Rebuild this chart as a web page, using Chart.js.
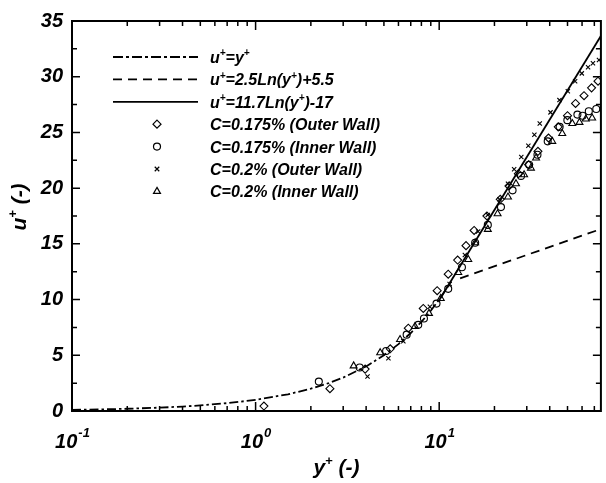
<!DOCTYPE html>
<html><head><meta charset="utf-8">
<script src="https://cdn.jsdelivr.net/npm/chart.js@4.4.1/dist/chart.umd.min.js"></script>
<style>html,body{margin:0;padding:0;background:#fff}#wrap{width:606px;height:483px;position:relative}</style>
</head><body><div id="wrap"><canvas id="c"></canvas></div>
<script>
const FONT = "'Liberation Sans', Arial, Helvetica, sans-serif";

// ---- data ----
const seriesLabels = ["u⁺=y⁺", "u⁺=2.5Ln(y⁺)+5.5", "u⁺=11.7Ln(y⁺)-17",
  "C=0.175% (Outer Wall)", "C=0.175% (Inner Wall)", "C=0.2% (Outer Wall)", "C=0.2% (Inner Wall)"];
const xTickValues = [0.1, 1, 10];
const xTickExponents = ["-1", "0", "1"];
const xTitle = "y⁺ (-)";
const yTitle = "u⁺ (-)";

const viscousY = [0.1, 0.15, 0.2, 0.3, 0.4, 0.5, 0.7, 1, 1.5, 2, 2.5, 3, 4, 5, 6, 7, 8, 9, 10, 11.6];
const viscousU = [0.1, 0.15, 0.2, 0.3, 0.4, 0.5, 0.7, 1, 1.5, 2, 2.5, 3, 4, 5, 6, 7, 8, 9, 10, 11.6];
const logLawY = [13, 76];
const logLawU = [11.91, 16.33];
const fitY = [10, 78];
const fitU = [9.94, 33.97];

const outer175Y = [1.11, 2.54, 3.95, 5.41, 6.79, 8.19, 9.75, 11.2, 12.6, 14.0, 15.5, 18.2, 21.5, 24.0, 27.0, 30.7, 34.5, 39.4, 44.5, 50.0, 55.3, 61.5, 67.6, 73.3];
const outer175U = [0.44, 2.0, 3.76, 5.58, 7.43, 9.2, 10.8, 12.28, 13.55, 14.84, 16.2, 17.5, 19.0, 20.2, 21.3, 22.1, 23.3, 24.5, 25.5, 26.5, 27.6, 28.3, 29.0, 29.6];
const inner175Y = [2.21, 3.69, 5.14, 6.65, 7.69, 8.26, 9.67, 11.2, 13.3, 15.7, 18.4, 21.7, 25.1, 27.9, 30.9, 34.3, 39.0, 45.3, 49.9, 56.6, 60.4, 65.3, 71.7];
const inner175U = [2.64, 3.9, 5.38, 6.85, 7.73, 8.3, 9.64, 10.96, 12.9, 15.1, 16.7, 18.3, 19.8, 21.1, 22.1, 23.0, 24.2, 25.5, 26.1, 26.6, 26.5, 26.9, 27.1];
const outer2Y = [4.07, 5.29, 6.38, 8.9, 11.4, 13.8, 16.3, 18.4, 21.3, 23.7, 25.6, 28.0, 30.6, 33.0, 35.3, 40.4, 45.2, 50.2, 55.0, 59.8, 64.7, 68.8, 74.2];
const outer2U = [3.09, 4.73, 6.26, 9.35, 11.4, 14.0, 16.1, 17.6, 19.0, 20.4, 21.7, 22.8, 23.8, 24.8, 25.8, 26.8, 27.9, 28.7, 29.6, 30.3, 30.85, 31.2, 31.5];
const inner2Y = [3.42, 4.77, 6.12, 7.38, 8.8, 10.2, 12.7, 14.4, 15.7, 18.4, 20.8, 23.7, 26.2, 29.0, 31.6, 33.7, 41.3, 46.8, 53.1, 58.1, 62.9, 68.1];
const inner2U = [4.05, 5.23, 6.41, 7.58, 8.76, 10.1, 12.43, 13.6, 15.1, 16.3, 17.7, 19.2, 20.4, 21.2, 21.8, 22.7, 24.2, 24.9, 25.8, 25.9, 26.2, 26.3];

const pts = (xs, ys) => xs.map((x, i) => ({x: x, y: ys[i]}));

function lineDs(label, xs, ys, dash) {
  return {label, data: pts(xs, ys), showLine: true, borderColor: '#000', borderWidth: 1.8,
    borderDash: dash, pointRadius: 0, pointHoverRadius: 0, fill: false, tension: 0};
}
function markDs(label, xs, ys, style, r) {
  return {label, data: pts(xs, ys), showLine: false, pointStyle: style, pointRadius: r,
    pointHoverRadius: r, pointBorderWidth: 1.1, borderColor: '#000', backgroundColor: 'rgba(0,0,0,0)'};
}

const datasets = [
  lineDs(seriesLabels[0], viscousY, viscousU, [9, 3, 2.5, 3]),
  lineDs(seriesLabels[1], logLawY, logLawU, [9, 6]),
  lineDs(seriesLabels[2], fitY, fitU, []),
  markDs(seriesLabels[3], outer175Y, outer175U, 'rectRot', 4),
  markDs(seriesLabels[4], inner175Y, inner175U, 'circle', 3.5),
  markDs(seriesLabels[5], outer2Y, outer2U, 'crossRot', 3),
  markDs(seriesLabels[6], inner2Y, inner2U, 'triangle', 4),
];

function font(size) { return 'italic bold ' + size + 'px ' + FONT; }

// rich text: '⁺' drawn as a raised small '+'
function richSegments(text) {
  const segs = [];
  for (const ch of text) {
    const sup = ch === '⁺';
    const c = sup ? '+' : ch;
    if (segs.length && segs[segs.length - 1].sup === sup) segs[segs.length - 1].t += c;
    else segs.push({t: c, sup});
  }
  return segs;
}
function drawRich(ctx, text, x, y, size, align) {
  const segs = richSegments(text);
  const supSize = Math.round(size * 0.62);
  let w = 0;
  segs.forEach(s => { ctx.font = font(s.sup ? supSize : size); s.w = ctx.measureText(s.t).width; w += s.w; });
  let cx = align === 'center' ? x - w / 2 : x;
  ctx.textBaseline = 'alphabetic';
  ctx.textAlign = 'left';
  segs.forEach(s => {
    ctx.font = font(s.sup ? supSize : size);
    ctx.fillText(s.t, cx, s.sup ? y - size * 0.42 : y);
    cx += s.w;
  });
}

function drawMarker(ctx, style, x, y, r) {
  ctx.beginPath();
  if (style === 'rectRot') {
    ctx.moveTo(x, y - r); ctx.lineTo(x + r, y); ctx.lineTo(x, y + r); ctx.lineTo(x - r, y); ctx.closePath();
  } else if (style === 'circle') {
    ctx.arc(x, y, r, 0, Math.PI * 2);
  } else if (style === 'crossRot') {
    const d = r * 0.75;
    ctx.moveTo(x - d, y - d); ctx.lineTo(x + d, y + d); ctx.moveTo(x + d, y - d); ctx.lineTo(x - d, y + d);
  } else if (style === 'triangle') {
    const h = r * 1.5, w = r * Math.sqrt(3) * 0.5 * 1.0;
    ctx.moveTo(x, y - r); ctx.lineTo(x + r * 0.866, y + r * 0.5); ctx.lineTo(x - r * 0.866, y + r * 0.5); ctx.closePath();
  }
  ctx.stroke();
}

const framePlugin = {
  id: 'frame',
  afterDraw(chart) {
    const ctx = chart.ctx, a = chart.chartArea, xs = chart.scales.x, ys = chart.scales.y;
    ctx.save();
    ctx.strokeStyle = '#000'; ctx.fillStyle = '#000';
    // frame
    ctx.lineWidth = 2;
    ctx.setLineDash([]);
    ctx.strokeRect(a.left, a.top, a.right - a.left, a.bottom - a.top);
    // y ticks (inward, left and right)
    ctx.lineWidth = 1.5;
    for (let v = ys.min; v <= ys.max + 1e-9; v += 2.5) {
      const p = ys.getPixelForValue(v);
      const len = (Math.abs(v / 5 - Math.round(v / 5)) < 1e-6) ? 8 : 5;
      ctx.beginPath();
      ctx.moveTo(a.left, p); ctx.lineTo(a.left + len, p);
      ctx.moveTo(a.right, p); ctx.lineTo(a.right - len, p);
      ctx.stroke();
    }
    // x ticks (log, inward, bottom and top)
    for (let d = -1; d <= 2; d++) {
      for (let m = 1; m <= 9; m++) {
        const v = m * Math.pow(10, d);
        if (v < xs.min * 0.999 || v > xs.max * 1.001) continue;
        const p = xs.getPixelForValue(v);
        const len = m === 1 ? 9 : 5;
        ctx.beginPath();
        ctx.moveTo(p, a.bottom); ctx.lineTo(p, a.bottom - len);
        ctx.moveTo(p, a.top); ctx.lineTo(p, a.top + len);
        ctx.stroke();
      }
    }
    // x tick labels 10^n
    xTickValues.forEach((v, i) => {
      const p = xs.getPixelForValue(v);
      const base = '10', exp = xTickExponents[i];
      ctx.font = font(20); const bw = ctx.measureText(base).width;
      ctx.font = font(13); const ew = ctx.measureText(exp).width;
      const x0 = p - (bw + ew) / 2;
      ctx.textAlign = 'left'; ctx.textBaseline = 'alphabetic';
      ctx.font = font(20); ctx.fillText(base, x0, 448);
      ctx.font = font(13); ctx.fillText(exp, x0 + bw + 1, 437);
    });
    // axis titles
    drawRich(ctx, xTitle, (a.left + a.right) / 2, 474, 21, 'center');
    ctx.save();
    ctx.translate(26, 207);
    ctx.rotate(-Math.PI / 2);
    drawRich(ctx, yTitle, 0, 0, 21, 'center');
    ctx.restore();
    // legend
    const rowY0 = 57, rowStep = 22.4;
    chart.data.datasets.forEach((ds, i) => {
      const y = rowY0 + i * rowStep;
      ctx.lineWidth = 1.8;
      if (ds.showLine) {
        ctx.setLineDash(i === 0 ? [10, 3, 3, 3] : ds.borderDash);
        ctx.beginPath(); ctx.moveTo(113, y); ctx.lineTo(198, y); ctx.stroke();
        ctx.setLineDash([]);
      } else {
        ctx.lineWidth = 1.2;
        drawMarker(ctx, ds.pointStyle, 157, y, ds.pointRadius);
      }
      drawRich(ctx, ds.label, 210, y + 6, 16, 'left');
    });
    ctx.restore();
  }
};

new Chart(document.getElementById('c'), {
  type: 'scatter',
  data: {datasets},
  options: {
    animation: false, responsive: true, maintainAspectRatio: false,
    layout: {padding: {top: 14, right: 1, left: 0, bottom: 0}},
    plugins: {legend: {display: false}, tooltip: {enabled: false}},
    scales: {
      x: {type: 'logarithmic', min: 0.1, max: 76, position: 'bottom',
        grid: {display: false, drawTicks: false}, border: {display: false},
        ticks: {display: false},
        afterFit(s) { s.height = 72; }},
      y: {type: 'linear', min: 0, max: 35, position: 'left',
        grid: {display: false, drawTicks: false}, border: {display: false},
        ticks: {stepSize: 5, padding: 9, color: '#000',
          font: {family: FONT, size: 20, weight: 'bold', style: 'italic'}},
        afterFit(s) { s.width = 72; }}
    }
  },
  plugins: [framePlugin]
});
</script>
</body></html>
